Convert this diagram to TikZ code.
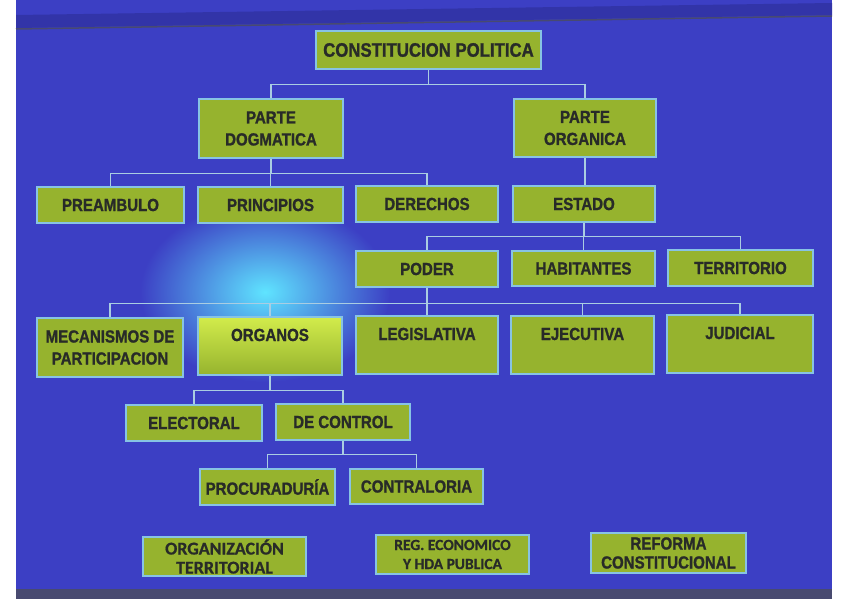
\documentclass[tikz,border=0pt]{standalone}
\usepackage{fontspec}
\setmainfont{Liberation Sans}
\newfontfamily\slidefont[FakeStretch=0.86,FakeBold=1.2]{Liberation Sans}
\newfontfamily\carlito[FakeBold=0.8]{Carlito}
\definecolor{slideblue}{RGB}{60,63,196}
\definecolor{bandblue}{RGB}{50,52,168}
\definecolor{edgegray}{RGB}{72,74,112}
\definecolor{glowcyan}{RGB}{95,228,255}
\definecolor{boxfill}{RGB}{150,179,46}
\definecolor{litfill}{RGB}{210,236,75}
\definecolor{boxline}{RGB}{135,195,228}
\definecolor{linkcol}{RGB}{170,205,226}
\definecolor{textcol}{RGB}{40,43,40}
\begin{document}
\begin{tikzpicture}[x=1pt,y=-1pt]
\tikzstyle{box}=[draw=boxline,line width=1.2pt,fill=boxfill,text=textcol,inner sep=0pt,align=center,font=\slidefont\bfseries\fontsize{17.5}{22}\selectfont]
\tikzstyle{link}=[draw=linkcol,line width=1.4pt]
\useasboundingbox (0,0) rectangle (848,599);
% slide
\fill[white] (0,0) rectangle (848,599);
\fill[slideblue] (16,0) rectangle (832,592);
\fill[bandblue] (16,15) -- (832,3) -- (832,15) -- (16,28) -- cycle;
\draw[edgegray,line width=1.5pt] (16,29) -- (832,16);
\fill[edgegray] (16,589) rectangle (832,599);
\shade[inner color=glowcyan,outer color=slideblue] (265,292) ellipse (125 and 90);
% nodes
\node[box,minimum width=225,minimum height=38,font=\slidefont\bfseries\fontsize{19.5}{22}\selectfont] at (428.5,50) (constitucion) {CONSTITUCION POLITICA};
\node[box,minimum width=144,minimum height=59] at (271,128.5) (dogmatica) {PARTE\\DOGMATICA};
\node[box,minimum width=142,minimum height=58] at (585,128) (organica) {PARTE\\ORGANICA};
\node[box,minimum width=147,minimum height=36] at (110.5,205) (preambulo) {PREAMBULO};
\node[box,minimum width=145,minimum height=36] at (270.5,205) (principios) {PRINCIPIOS};
\node[box,minimum width=142,minimum height=36] at (427,204) (derechos) {DERECHOS};
\node[box,minimum width=142,minimum height=36] at (584,204) (estado) {ESTADO};
\node[box,minimum width=142,minimum height=36] at (427,269) (poder) {PODER};
\node[box,minimum width=143,minimum height=35] at (583.5,268.5) (habitantes) {HABITANTES};
\node[box,minimum width=145,minimum height=36] at (740.5,268) (territorio) {TERRITORIO};
\node[box,minimum width=146,minimum height=59] at (110,347.5) (mecanismos) {MECANISMOS DE\\PARTICIPACION};
\node[box,minimum width=144,minimum height=58,text height=24pt,text depth=34pt,top color=litfill,bottom color=boxfill] at (270,346) (organos) {ORGANOS};
\node[box,minimum width=142,minimum height=58,text height=24pt,text depth=34pt] at (427,345) (legislativa) {LEGISLATIVA};
\node[box,minimum width=143,minimum height=58,text height=24pt,text depth=34pt] at (582.5,345) (ejecutiva) {EJECUTIVA};
\node[box,minimum width=146,minimum height=58,text height=24pt,text depth=34pt] at (740,344) (judicial) {JUDICIAL};
\node[box,minimum width=136,minimum height=36] at (194,423) (electoral) {ELECTORAL};
\node[box,minimum width=134,minimum height=36] at (343,422) (control) {DE CONTROL};
\node[box,minimum width=135,minimum height=36] at (267.5,487) (procuraduria) {PROCURADURÍA};
\node[box,minimum width=133,minimum height=35] at (416.5,486.5) (contraloria) {CONTRALORIA};
\node[box,minimum width=163,minimum height=39,font=\carlito\bfseries\fontsize{18}{19}\selectfont] at (224.5,556.5) (orgterritorial) {ORGANIZACIÓN\\TERRITORIAL};
\node[box,minimum width=153,minimum height=39,font=\carlito\bfseries\fontsize{15.5}{19}\selectfont] at (452.5,554.5) (regeconomico) {REG. ECONOMICO\\Y HDA PUBLICA};
\node[box,minimum width=155,minimum height=40,font=\slidefont\bfseries\fontsize{17.5}{19}\selectfont] at (668.5,553) (reforma) {REFORMA\\CONSTITUCIONAL};
% connectors
\draw[link] (constitucion.south) -- ++(0,15) -| (dogmatica.north);
\draw[link] (constitucion.south) -- ++(0,15) -| (organica.north);
\draw[link] (dogmatica.south) -- ++(0,15) -| (preambulo.north);
\draw[link] (dogmatica.south) -- ++(0,15) -| (principios.north);
\draw[link] (dogmatica.south) -- ++(0,15) -| (derechos.north);
\draw[link] (organica.south) -- (organica.south |- estado.north);
\draw[link] (estado.south) -- ++(0,14) -| (poder.north);
\draw[link] (estado.south) -- ++(0,14) -| (habitantes.north);
\draw[link] (estado.south) -- ++(0,14) -| (territorio.north);
\draw[link] (poder.south) -- ++(0,16) -| (mecanismos.north);
\draw[link] (poder.south) -- ++(0,16) -| (organos.north);
\draw[link] (poder.south) -- ++(0,16) -| (legislativa.north);
\draw[link] (poder.south) -- ++(0,16) -| (ejecutiva.north);
\draw[link] (poder.south) -- ++(0,16) -| (judicial.north);
\draw[link] (organos.south) -- ++(0,15) -| (electoral.north);
\draw[link] (organos.south) -- ++(0,15) -| (control.north);
\draw[link] (control.south) -- ++(0,14) -| (procuraduria.north);
\draw[link] (control.south) -- ++(0,14) -| (contraloria.north);
\end{tikzpicture}
\end{document}
